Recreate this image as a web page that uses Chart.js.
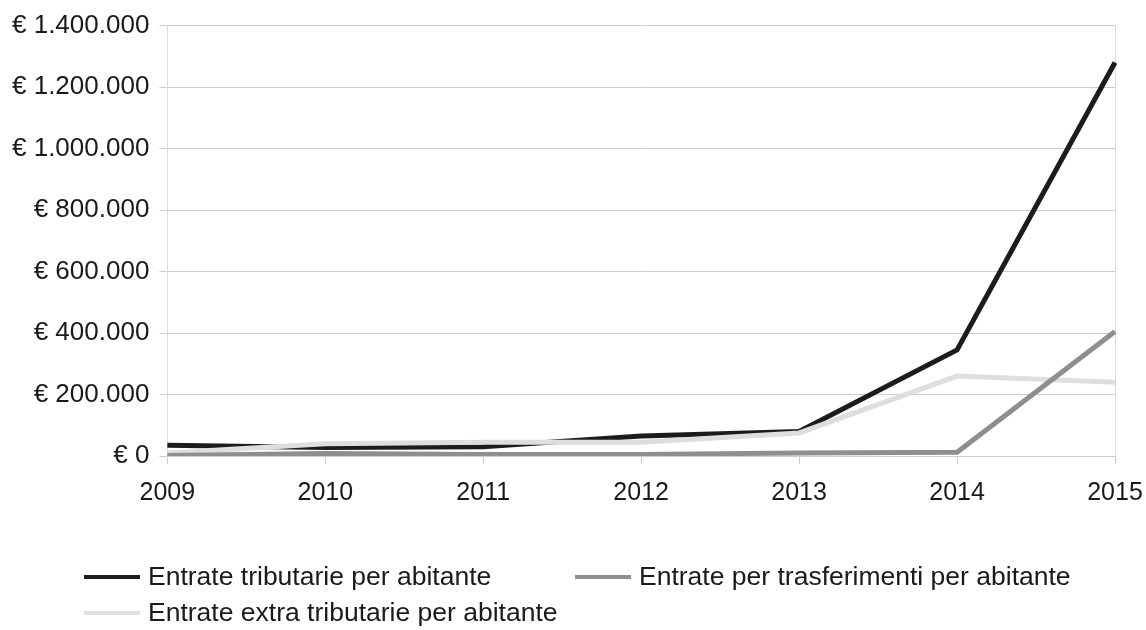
<!DOCTYPE html>
<html>
<head>
<meta charset="utf-8">
<script src="https://cdn.jsdelivr.net/npm/chart.js@4"></script>
<style>
  html, body { margin: 0; padding: 0; background: #fff; }
  #wrap { width: 1146px; height: 630px; }
</style>
</head>
<body>
<div id="wrap"><canvas id="entrateChart" width="1146" height="630"></canvas></div>
<script>
/* Entrate per abitante 2009–2015 */
const years = ['2009', '2010', '2011', '2012', '2013', '2014', '2015'];
const tributarie = [35000, 28000, 30000, 65000, 80000, 345000, 1280000];
const trasferimenti = [2000, 8000, 5000, 5000, 10000, 12000, 405000];
const extraTributarie = [10000, 40000, 45000, 45000, 75000, 260000, 240000];
const yTicks = [0, 200000, 400000, 600000, 800000, 1000000, 1200000, 1400000];

const FONT = 'Liberation Sans, Arial, sans-serif';

function euro(v) {
  return '€ ' + String(v).replace(/\B(?=(\d{3})+(?!\d))/g, '.');
}

// legend drawn by hand: two items on the first row, one on the second
const bottomLegend = {
  id: 'bottomLegend',
  afterDraw(chart) {
    const c = chart.ctx;
    const ds = chart.data.datasets;
    const spots = [
      { x: 84, y: 577, len: 56 },
      { x: 575, y: 577, len: 56 },
      { x: 84, y: 613, len: 56 }
    ];
    c.save();
    c.font = '26.5px ' + FONT;
    c.textBaseline = 'middle';
    c.fillStyle = '#1a1a1a';
    ds.forEach((d, i) => {
      const s = spots[i];
      c.strokeStyle = d.borderColor;
      c.lineWidth = 4;
      c.beginPath();
      c.moveTo(s.x, s.y);
      c.lineTo(s.x + s.len, s.y);
      c.stroke();
      c.fillText(d.label, s.x + s.len + 8, s.y + 1);
    });
    c.restore();
  }
};

const ctx = document.getElementById('entrateChart').getContext('2d');
new Chart(ctx, {
  type: 'line',
  data: {
    labels: years,
    datasets: [
      {
        label: 'Entrate tributarie per abitante',
        data: tributarie,
        borderColor: '#1c1c1c',
        borderWidth: 5,
        pointRadius: 0,
        tension: 0,
        order: 2
      },
      {
        label: 'Entrate per trasferimenti per abitante',
        data: trasferimenti,
        borderColor: '#8e8e8e',
        borderWidth: 5,
        pointRadius: 0,
        tension: 0,
        order: 0
      },
      {
        label: 'Entrate extra tributarie per abitante',
        data: extraTributarie,
        borderColor: '#dedede',
        borderWidth: 5,
        pointRadius: 0,
        tension: 0,
        order: 1
      }
    ]
  },
  options: {
    responsive: false,
    animation: false,
    layout: { padding: { left: 2, right: 31, top: 10, bottom: 108 } },
    scales: {
      y: {
        min: 0,
        max: 1400000,
        afterBuildTicks: (axis) => { axis.ticks = yTicks.map(v => ({ value: v })); },
        ticks: {
          callback: (v) => euro(v),
          color: '#1a1a1a',
          font: { family: FONT, size: 26 },
          padding: 10
        },
        grid: { color: '#cccccc', lineWidth: 1, tickLength: 8, tickColor: '#cccccc' },
        border: { display: true, color: '#dddddd' }
      },
      x: {
        offset: false,
        afterFit: (axis) => { axis.paddingRight = 0; },
        ticks: {
          color: '#1a1a1a',
          font: { family: FONT, size: 25 },
          padding: 14,
          maxRotation: 0
        },
        grid: {
          color: (c) => c.index === years.length - 1 ? '#dddddd' : 'rgba(0,0,0,0)',
          tickColor: '#cccccc',
          tickLength: 8
        },
        border: { display: false }
      }
    },
    plugins: {
      legend: { display: false },
      tooltip: { enabled: false }
    }
  },
  plugins: [bottomLegend]
});
</script>
</body>
</html>
